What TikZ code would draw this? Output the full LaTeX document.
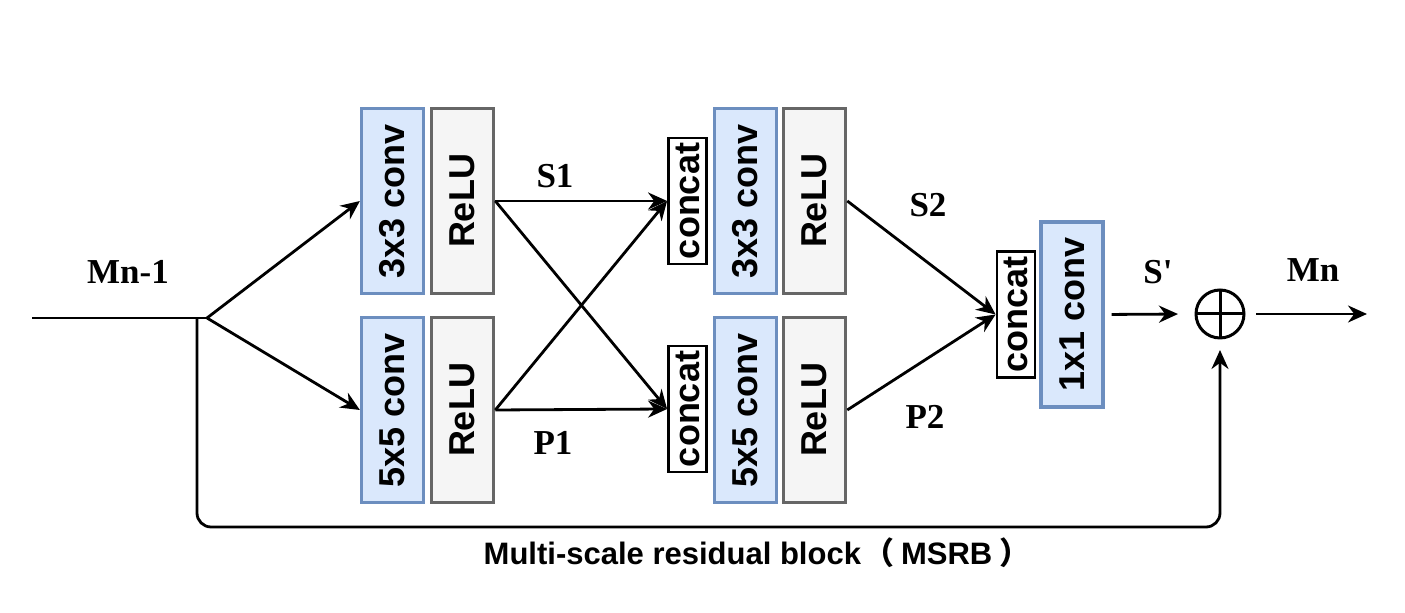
\documentclass[tikz,border=0pt]{standalone}
\usepackage{fontspec}
\setmainfont{Liberation Serif}
\setsansfont{Liberation Sans}
\newfontfamily\cjkfont{Noto Sans CJK SC}
\usetikzlibrary{arrows.meta,positioning}
\definecolor{convfill}{HTML}{DAE8FC}
\definecolor{convdraw}{HTML}{6C8EBF}
\definecolor{relufill}{HTML}{F5F5F5}
\definecolor{reludraw}{HTML}{666666}
\newcommand{\vlabel}[1]{\rotatebox{90}{#1}}

\begin{document}
\begin{tikzpicture}[
  x=0.5pt, y=-0.5pt,
  >={Stealth[length=9.5pt,width=8.5pt]},
  convbox/.style={
    draw=convdraw,
    fill=convfill,
    line width=1.6pt,
    minimum width=31pt,
    minimum height=92.5pt,
    inner sep=0pt,
    font=\sffamily\bfseries\fontsize{18}{20}\selectfont
  },
  relubox/.style={
    convbox,
    draw=reludraw,
    fill=relufill
  },
  catbox/.style={
    draw=black,
    fill=white,
    line width=1.4pt,
    minimum width=19pt,
    minimum height=63pt,
    inner sep=0pt,
    font=\sffamily\bfseries\fontsize{18}{20}\selectfont
  },
  flow/.style={
    ->,
    line width=1.4pt
  },
  plainline/.style={
    line width=1.4pt
  },
  varlabel/.style={
    font=\bfseries\fontsize{17.5}{20}\selectfont
  }
]
  \useasboundingbox (0,0) rectangle (1405,613);

  % =========================================================================
  % STAGE 1: PARALLEL 3x3 / 5x5 BRANCHES
  % =========================================================================
  \coordinate (start) at (32,318);
  \coordinate (split) at (207,318);
  \coordinate (tap) at (197,318);
  \draw[plainline] (start) -- (split);
  \node[varlabel] (lab_in) at (128,272) {Mn-1};

  \node[convbox] (conv3a) at (392.5,201) {\vlabel{3x3 conv}};
  \node[relubox, right=2.5pt of conv3a] (relu3a) {\vlabel{ReLU}};
  \node[convbox] (conv5a) at (392.5,410) {\vlabel{5x5 conv}};
  \node[relubox, right=2.5pt of conv5a] (relu5a) {\vlabel{ReLU}};

  \draw[flow] (split) -- (conv3a.west);
  \draw[flow] (split) -- (conv5a.west);

  % =========================================================================
  % STAGE 2: CROSS-CONCAT BRANCHES
  % =========================================================================
  \node[catbox] (cat3b) at (687.5,201) {\vlabel{concat}};
  \node[convbox, right=2.5pt of cat3b] (conv3b) {\vlabel{3x3 conv}};
  \node[relubox, right=2pt of conv3b] (relu3b) {\vlabel{ReLU}};
  \node[catbox] (cat5b) at (687.5,409) {\vlabel{concat}};
  \node[convbox, right=2.5pt of cat5b, yshift=-0.5pt] (conv5b) {\vlabel{5x5 conv}};
  \node[relubox, right=2pt of conv5b] (relu5b) {\vlabel{ReLU}};

  \draw[flow] (relu3a.east) -- (cat3b.west);
  \draw[flow] (relu3a.east) -- (cat5b.west);
  \draw[flow] (relu5a.east) -- (cat3b.west);
  \draw[flow] (relu5a.east) -- (cat5b.west);
  \node[varlabel] (lab_s1) at (555,176) {S1};
  \node[varlabel] (lab_p1) at (553,443) {P1};

  % =========================================================================
  % STAGE 3: FUSION AND RESIDUAL SUM
  % =========================================================================
  \node[catbox] (cat1x1) at (1016,314.5) {\vlabel{concat}};
  \node[convbox, right=1.5pt of cat1x1] (conv1x1) {\vlabel{1x1 conv}};

  \draw[flow] (relu3b.east) -- (cat1x1.west);
  \draw[flow] (relu5b.east) -- (cat1x1.west);
  \node[varlabel] (lab_s2) at (928,205) {S2};
  \node[varlabel] (lab_p2) at (925,417) {P2};

  \node[draw, circle, line width=1.5pt, minimum size=24pt, inner sep=0pt, outer sep=6pt,
        path picture={\draw[line width=1.5pt] (path picture bounding box.north) -- (path picture bounding box.south)
                      (path picture bounding box.west) -- (path picture bounding box.east);}]
    (sum) at (1220,314) {};
  \coordinate (out) at (1367,314);

  \draw[flow, shorten <=3.5pt, shorten >=3pt] (conv1x1.east) -- (sum.west);
  \draw[flow] (sum.east) -- (out);
  \node[varlabel] (lab_sp) at (1158,272) {S\textquotesingle};
  \node[varlabel] (lab_out) at (1313,270) {Mn};

  % Residual skip
  \draw[flow, rounded corners=7pt] (tap) -- ++(0,209) -| (sum.south);

  \node[font=\sffamily\bfseries\fontsize{15.5}{18}\selectfont] (caption) at (757,553)
    {Multi-scale residual block\hspace{1pt}{\cjkfont （}\hspace{3.5pt}MSRB\hspace{3.5pt}{\cjkfont ）}};

\end{tikzpicture}
\end{document}
